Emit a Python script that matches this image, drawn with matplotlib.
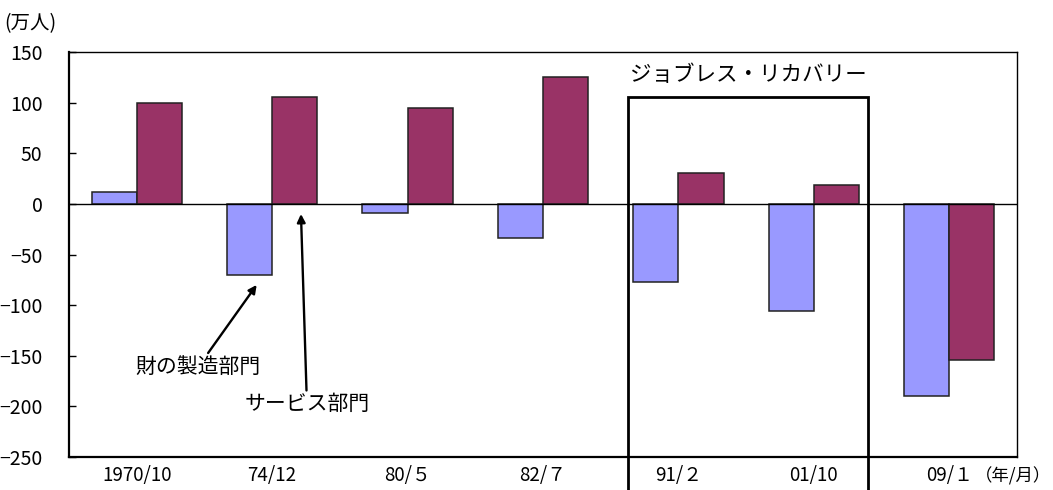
import matplotlib
matplotlib.use("Agg")
import matplotlib.pyplot as plt
import numpy as np

plt.rcParams['font.family'] = ['Noto Sans CJK JP', 'DejaVu Sans']

# recession start (year/month) and job change in each sector (10k persons)
periods = ['1970/10', '74/12', '80/５', '82/７', '91/２', '01/10', '09/１']
goods = [12, -70, -9, -34, -77, -106, -190]
services = [100, 106, 95, 125, 30, 19, -154]

goods_color = '#9999FF'
service_color = '#993366'

fig = plt.figure(figsize=(10.53, 4.90), dpi=100)
ax = fig.add_axes([0.0655, 0.0673, 0.9003, 0.8266])

x = np.arange(len(periods))
w = 1 / 3
ax.bar(x - w / 2, goods, w, color=goods_color, edgecolor='#222222', linewidth=1.1, zorder=3)
ax.bar(x + w / 2, services, w, color=service_color, edgecolor='#222222', linewidth=1.1, zorder=3)

ax.axhline(0, color='black', linewidth=1.0, zorder=4)

ax.set_xlim(-0.5, len(periods) - 0.5)
ax.set_ylim(-250, 150)
ax.set_yticks(np.arange(-250, 151, 50))
ax.set_yticklabels([str(v).replace('-', '−') for v in range(-250, 151, 50)], fontsize=14)
ax.set_xticks(x)
ax.set_xticklabels(periods, fontsize=13.5)
ax.tick_params(axis='y', direction='in', length=5, width=1, pad=19)
ax.tick_params(axis='x', length=0, pad=6)
for side in ['left', 'bottom']:
    ax.spines[side].set_linewidth(1.6)
for side in ['top', 'right']:
    ax.spines[side].set_linewidth(1.0)

# jobless recovery box, running down past the axis
bx0, bx1, btop, bbot = 3.63, 5.40, 106, -300
ax.plot([bx0, bx0, bx1, bx1], [bbot, btop, btop, bbot], color='black',
        linewidth=2.0, clip_on=False, zorder=5, solid_joinstyle='miter')
ax.text((bx0 + bx1) / 2, 127, 'ジョブレス・リカバリー', ha='center', va='center', fontsize=15.5)

# sector labels with arrows
ax.annotate('財の製造部門', xy=(0.886, -80), xytext=(0.455, -150),
            ha='center', va='top', fontsize=15,
            textcoords='data',
            arrowprops=dict(arrowstyle='-|>', color='black', lw=1.7,
                            mutation_scale=12, shrinkA=0, shrinkB=0))
ax.annotate('サービス部門', xy=(1.213, -10), xytext=(1.257, -187),
            ha='center', va='top', fontsize=15,
            arrowprops=dict(arrowstyle='-|>', color='black', lw=1.7,
                            mutation_scale=12, shrinkA=0, shrinkB=0))

fig.text(0.004, 0.952, '(万人)', ha='left', va='center', fontsize=14)
fig.text(0.998, 0.027, '（年/月）', ha='right', va='center', fontsize=12.5)

fig.savefig('out.png', dpi=100)
